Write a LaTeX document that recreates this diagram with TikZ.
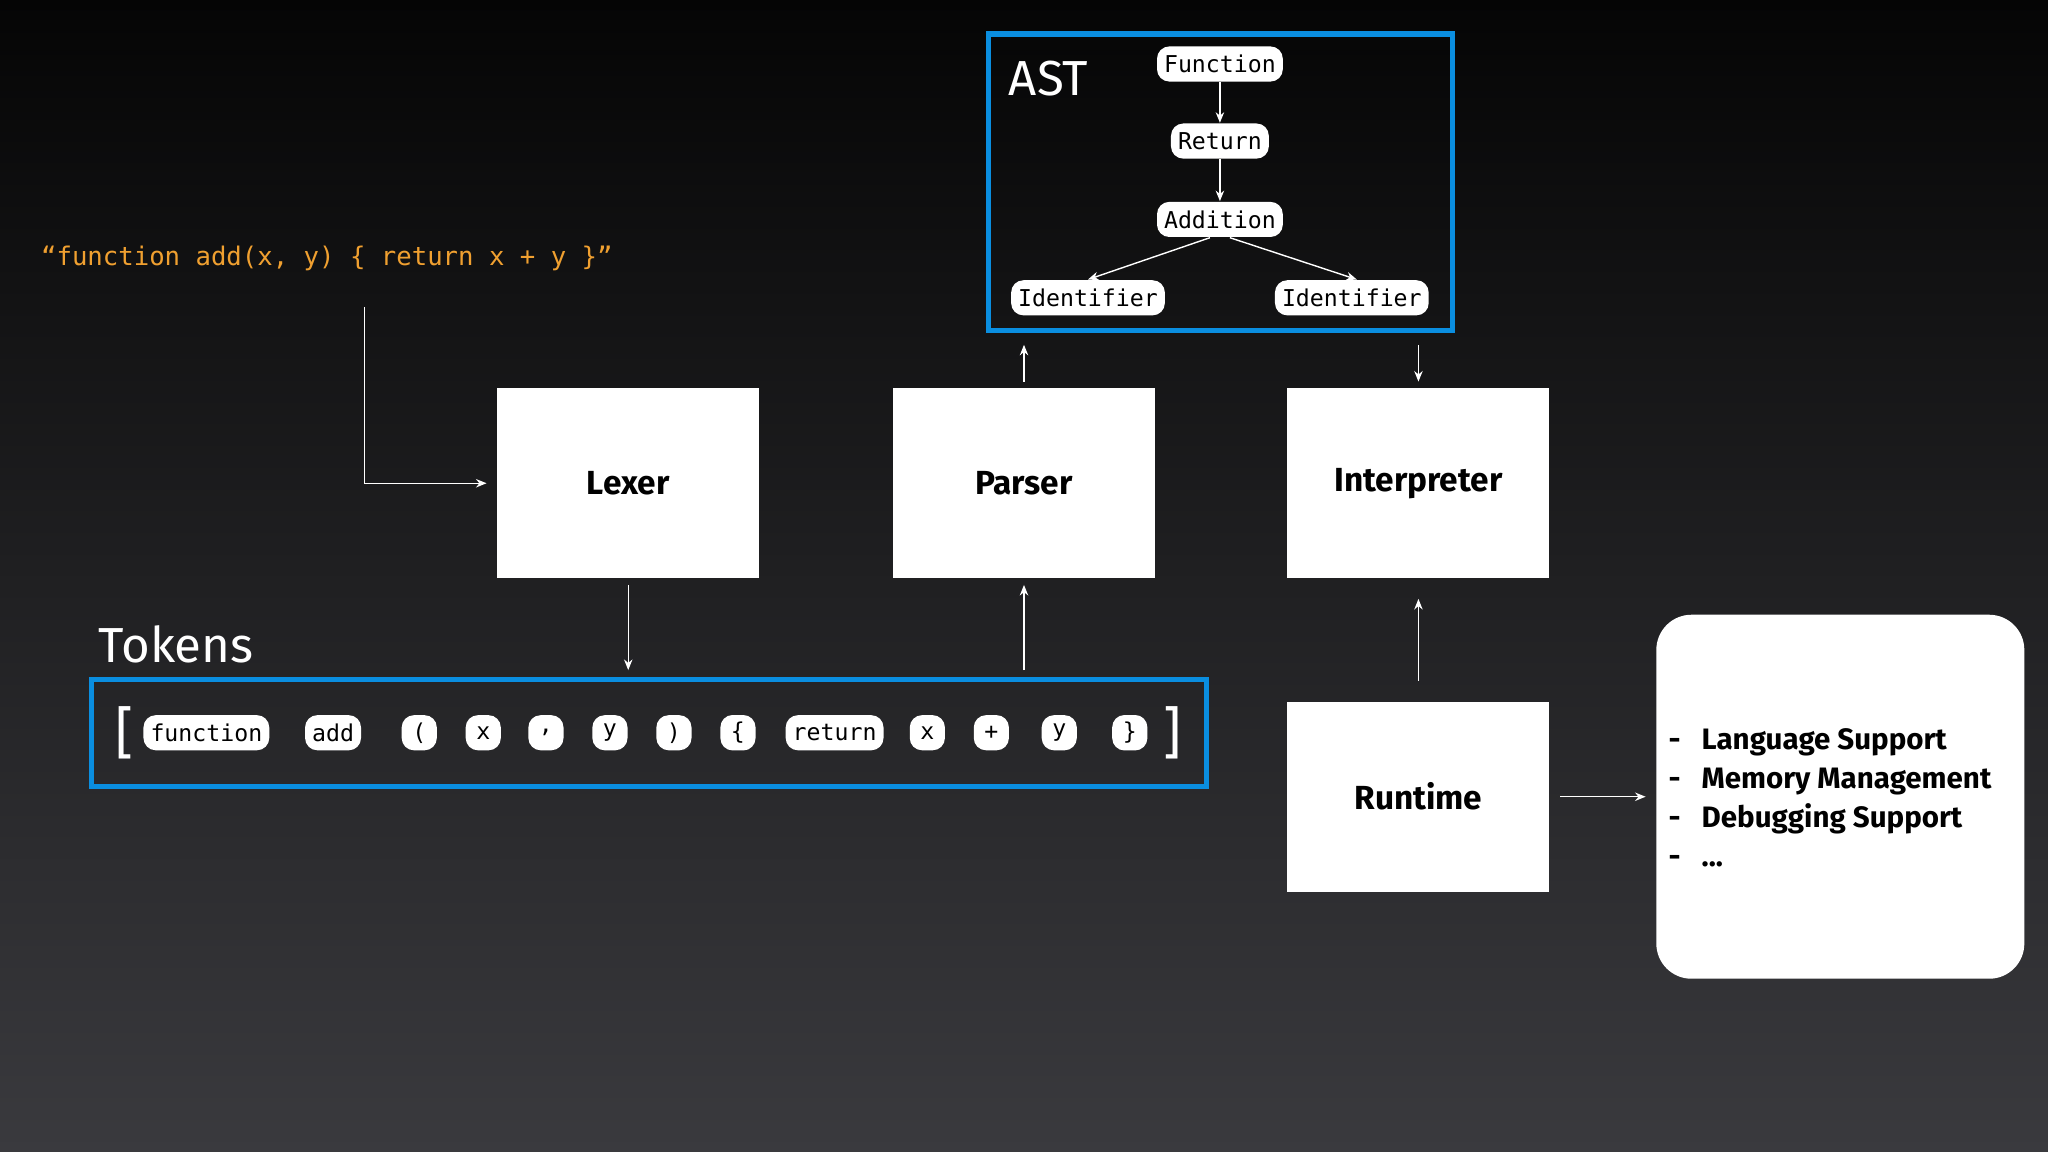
\documentclass[tikz,border=0pt]{standalone}
\usepackage{fontspec}
\setmainfont{Fira Sans}
\newfontfamily\codefont{DejaVu Sans Mono}
\usetikzlibrary{arrows.meta}
\definecolor{bluefrm}{HTML}{0A8EE0}
\definecolor{codeorange}{HTML}{F0A030}
\definecolor{bgtop}{HTML}{050505}
\definecolor{bgbot}{HTML}{3A3A3E}
\begin{document}
\begin{tikzpicture}[
  x = 0.01306cm, y = -0.01306cm,
  stage/.style = {
    fill = white,
    minimum width = 2.62cm,
    minimum height = 1.9cm,
    inner sep = 0pt,
    font = \fontsize{9.5}{11}\selectfont\bfseries,
  },
  pill/.style = {
    fill = white,
    rounded corners = 3.5pt,
    minimum height = 10pt,
    minimum width = 10pt,
    inner sep = 2pt,
    font = \codefont\fontsize{6.6}{8}\selectfont,
  },
  frame/.style = {
    draw = bluefrm,
    line width = 1.5pt,
  },
  link/.style = {
    draw = white,
    line width = 0.4pt,
    -{Stealth[length = 3pt, width = 2.4pt]},
  },
  title/.style = {
    text = white,
    font = \fontsize{14}{16}\selectfont,
  }
]
  \shade[top color = bgtop, bottom color = bgbot] (0, 0) rectangle (1568, 882);
  \useasboundingbox (0, 0) rectangle (1568, 882);

  % source text
  \node[text = codeorange, font = \codefont\fontsize{7.3}{9}\selectfont, anchor = west]
    (src) at (22, 198) {“function add(x, y) \{ return x + y \}”};
  \coordinate (srcdown) at (279, 235);

  % stages
  \node[stage] (lexer) at (481, 370) {Lexer};
  \node[stage] (parser) at (784, 370) {Parser};
  \node[stage] (interp) at (1086, 370) {Interpreter};
  \node[stage] (runtime) at (1086, 610) {Runtime};

  % tokens
  \node[title, anchor = west] (toklabel) at (66, 493) {Tokens};
  \draw[frame] (70, 520) rectangle (924, 602);
  \node[text = white, font = \fontsize{16}{18}\selectfont] (lbr) at (95, 561) {[};
  \node[text = white, font = \fontsize{16}{18}\selectfont] (rbr) at (898, 561) {]};
  \foreach \t/\px [count = \i] in {function/158, add/255, {(}/321, x/370, {,}/418, y/467,
      {)}/516, \{/565, return/639, x/710, +/759, y/811, \}/865}
    \node[pill] (tok\i) at (\px, 561) {\t};
  \coordinate (tokparser) at (784, 513);

  % AST
  \draw[frame] (757, 26) rectangle (1112, 253);
  \node[title, anchor = west] (astlabel) at (763, 60) {AST};
  \node[pill] (fn) at (934, 49) {Function};
  \node[pill] (ret) at (934, 108) {Return};
  \node[pill] (add) at (934, 168) {Addition};
  \node[pill] (idl) at (833, 228) {Identifier};
  \node[pill] (idr) at (1035, 228) {Identifier};
  \draw[link] (fn) -- (ret);
  \draw[link] (ret) -- (add);
  \draw[link] ([xshift = -0.1cm]add.south) -- (idl.north);
  \draw[link] ([xshift = 0.1cm]add.south) -- ([xshift = 0.05cm]idr.north);
  \coordinate (astin) at (784, 264);
  \coordinate (astout) at (1086, 264);

  % runtime features
  \node[fill = white, rounded corners = 10pt, minimum width = 3.68cm,
    minimum height = 3.64cm] (features) at (1409, 610) {};
  \node[anchor = west, align = left, font = \fontsize{8.4}{11.1}\selectfont\bfseries]
    (featlist) at (1268, 611) {-\hspace{6pt}Language Support\\
      -\hspace{6pt}Memory Management\\
      -\hspace{6pt}Debugging Support\\
      -\hspace{6pt}...};

  % flow
  \draw[link] (srcdown) |- ([xshift = -0.1cm]lexer.west);
  \draw[link] ([yshift = -0.06cm]lexer.south) -- (481, 513);
  \draw[link] (tokparser) -- ([yshift = -0.06cm]parser.south);
  \draw[link] ([yshift = 0.06cm]parser.north) -- (astin);
  \draw[link] (astout) -- ([yshift = 0.06cm]interp.north);
  \draw[link, {Stealth[length = 3pt, width = 2.4pt]}-] ([yshift = -0.2cm]interp.south)
    -- ([yshift = 0.2cm]runtime.north);
  \draw[link] ([xshift = 0.1cm]runtime.east) -- ([xshift = -0.1cm]features.west);
\end{tikzpicture}
\end{document}
